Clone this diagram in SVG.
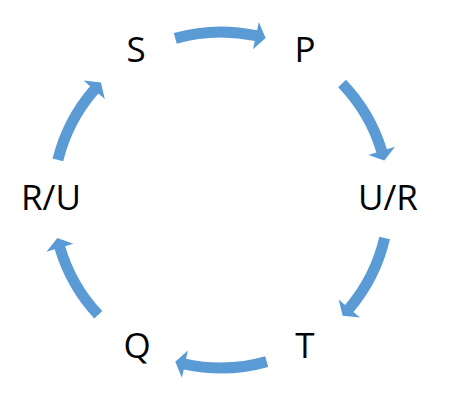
<svg xmlns="http://www.w3.org/2000/svg" width="451" height="403" viewBox="0 0 451 403">
<style>
.arrow{fill:#5B9BD5;stroke:none}
.lbl{font-family:"Open Sans","Liberation Sans",sans-serif;font-size:35px;fill:#000;text-anchor:middle}
</style>
<rect width="451" height="403" fill="#fff"/>
<g id="connectors">
<path class="arrow" d="M173.76,33.06 A173.5,173.5 0 0 1 257.07,30.30 L258.84,21.99 L265.62,38.03 L253.02,49.37 L254.78,41.06 A162.5,162.5 0 0 0 176.75,43.64 Z"/>
<path class="arrow" d="M346.02,79.70 A173.5,173.5 0 0 1 386.92,149.27 L395.05,146.78 L384.30,160.50 L368.27,154.97 L376.40,152.48 A162.5,162.5 0 0 0 338.10,87.32 Z"/>
<path class="arrow" d="M389.99,239.33 A173.5,173.5 0 0 1 353.52,311.99 L360.01,317.48 L342.67,315.85 L338.63,299.41 L345.12,304.89 A162.5,162.5 0 0 0 379.28,236.84 Z"/>
<path class="arrow" d="M268.24,366.94 A173.5,173.5 0 0 1 183.75,369.46 L181.92,377.76 L175.25,361.65 L187.94,350.41 L186.11,358.71 A162.5,162.5 0 0 0 265.25,356.36 Z"/>
<path class="arrow" d="M94.31,318.55 A173.5,173.5 0 0 1 54.65,249.27 L46.50,251.69 L57.37,238.09 L73.34,243.74 L65.19,246.15 A162.5,162.5 0 0 0 102.34,311.04 Z"/>
<path class="arrow" d="M52.51,158.62 A173.5,173.5 0 0 1 90.06,86.17 L83.64,80.59 L100.96,82.45 L104.78,98.96 L98.36,93.38 A162.5,162.5 0 0 0 63.20,161.24 Z"/>
</g>
<g id="node-S"><text class="lbl" x="136" y="62">S</text></g>
<g id="node-P"><text class="lbl" x="305" y="62">P</text></g>
<g id="node-UR"><text class="lbl" x="388" y="210">U/R</text></g>
<g id="node-T"><text class="lbl" x="305" y="357.5">T</text></g>
<g id="node-Q"><text class="lbl" x="137" y="357.5">Q</text></g>
<g id="node-RU"><text class="lbl" x="51" y="210">R/U</text></g>
</svg>
